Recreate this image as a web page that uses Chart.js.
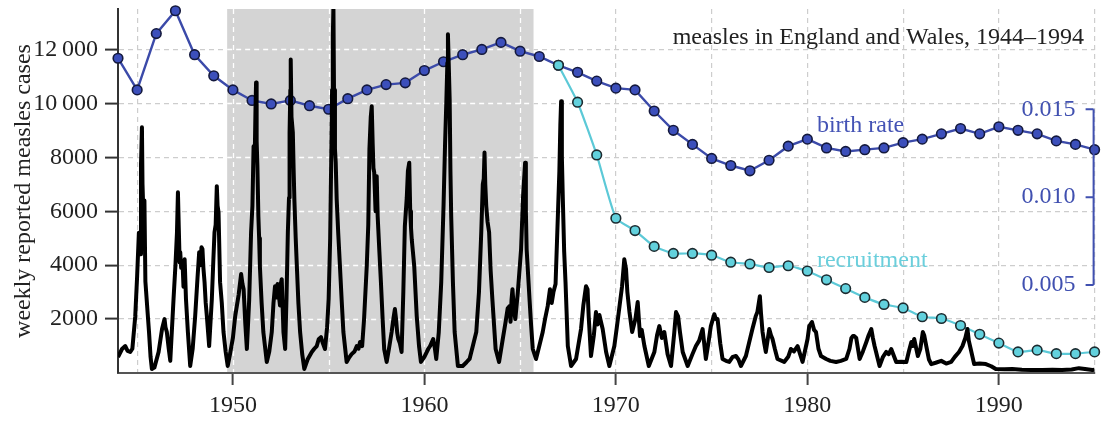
<!DOCTYPE html>
<html>
<head>
<meta charset="utf-8">
<script src="https://cdn.jsdelivr.net/npm/chart.js@4.4.1/dist/chart.umd.min.js"></script>
<style>
  html, body { margin: 0; padding: 0; background: #fff; }
  #wrap { width: 1101px; height: 421px; }
</style>
</head>
<body>
<div id="wrap"><canvas id="measlesChart" width="1101" height="421"></canvas></div>
<script>
// annual series (birth rate per capita, recruitment = unvaccinated births)
const rateYears = [1944, 1945, 1946, 1947, 1948, 1949, 1950, 1951, 1952, 1953,
    1954, 1955, 1956, 1957, 1958, 1959, 1960, 1961, 1962, 1963,
    1964, 1965, 1966, 1967, 1968, 1969, 1970, 1971, 1972, 1973,
    1974, 1975, 1976, 1977, 1978, 1979, 1980, 1981, 1982, 1983,
    1984, 1985, 1986, 1987, 1988, 1989, 1990, 1991, 1992, 1993,
    1994, 1995];
const birthRate = [0.0179, 0.0161, 0.0193, 0.0206, 0.0181, 0.0169, 0.0161, 0.0155, 0.0153, 0.0155,
    0.0152, 0.0150, 0.0156, 0.0161, 0.0164, 0.0165, 0.0172, 0.0177, 0.0181, 0.0184,
    0.0188, 0.0183, 0.0180, 0.0175, 0.0171, 0.0166, 0.0162, 0.0161, 0.0149, 0.0138,
    0.0130, 0.0122, 0.0118, 0.0115, 0.0121, 0.0129, 0.0133, 0.0128, 0.0126, 0.0127,
    0.0128, 0.0131, 0.0133, 0.0136, 0.0139, 0.0136, 0.0140, 0.0138, 0.0136, 0.0132,
    0.0130, 0.0127];

const recruitYears = [1967, 1968, 1969, 1970, 1971, 1972, 1973, 1974, 1975, 1976,
    1977, 1978, 1979, 1980, 1981, 1982, 1983, 1984, 1985, 1986,
    1987, 1988, 1989, 1990, 1991, 1992, 1993, 1994, 1995];
const recruitment = [0.0175, 0.0154, 0.0124, 0.0088, 0.0081, 0.0072, 0.0068, 0.0068, 0.0067, 0.0063,
    0.0062, 0.0060, 0.0061, 0.0058, 0.0053, 0.0048, 0.0043, 0.0039, 0.0037, 0.0032,
    0.0031, 0.0027, 0.0022, 0.0017, 0.0012, 0.0013, 0.0011, 0.0011, 0.0012];

// weekly reported cases (one row per year)
const measlesTime = [
    1944.00, 1944.21, 1944.38, 1944.50, 1944.64, 1944.75, 1944.90,
    1945.00, 1945.09, 1945.15, 1945.20, 1945.25, 1945.28, 1945.33, 1945.38, 1945.43, 1945.55, 1945.62, 1945.70, 1945.77, 1945.90,
    1946.12, 1946.30, 1946.43, 1946.48, 1946.55, 1946.65, 1946.73, 1946.90,
    1947.00, 1947.08, 1947.13, 1947.17, 1947.22, 1947.25, 1947.30, 1947.37, 1947.42, 1947.48, 1947.55, 1947.65, 1947.77, 1947.90,
    1948.03, 1948.15, 1948.24, 1948.30, 1948.36, 1948.41, 1948.46, 1948.52, 1948.58, 1948.64, 1948.76, 1948.90, 1948.98,
    1949.04, 1949.10, 1949.16, 1949.20, 1949.25, 1949.33, 1949.42, 1949.51, 1949.62, 1949.73, 1949.85,
    1950.00, 1950.12, 1950.30, 1950.43, 1950.50, 1950.56, 1950.65, 1950.73, 1950.85, 1950.95,
    1951.02, 1951.08, 1951.14, 1951.18, 1951.21, 1951.24, 1951.28, 1951.33, 1951.37, 1951.41, 1951.50, 1951.59, 1951.77, 1951.90,
    1952.03, 1952.12, 1952.20, 1952.28, 1952.33, 1952.38, 1952.46, 1952.50, 1952.55, 1952.60, 1952.64, 1952.73, 1952.80, 1952.87, 1952.93, 1952.96,
    1953.00, 1953.02, 1953.06, 1953.13, 1953.17, 1953.21, 1953.28, 1953.34, 1953.42, 1953.51, 1953.62, 1953.73, 1953.90,
    1954.12, 1954.25, 1954.38, 1954.48, 1954.60, 1954.70, 1954.81, 1954.92,
    1955.00, 1955.08, 1955.13, 1955.18, 1955.22, 1955.25, 1955.28, 1955.33, 1955.37, 1955.42, 1955.50, 1955.59, 1955.68, 1955.77, 1955.94,
    1956.05, 1956.20, 1956.35, 1956.47, 1956.56, 1956.64, 1956.75, 1956.85, 1956.99,
    1957.07, 1957.13, 1957.20, 1957.25, 1957.30, 1957.34, 1957.38, 1957.45, 1957.51, 1957.56, 1957.65, 1957.73, 1957.82, 1957.90,
    1958.03, 1958.15, 1958.29, 1958.38, 1958.46, 1958.52, 1958.58, 1958.64, 1958.72, 1958.81, 1958.90, 1958.98,
    1959.08, 1959.14, 1959.21, 1959.26, 1959.30, 1959.34, 1959.40, 1959.47, 1959.60, 1959.72, 1959.82,
    1960.00, 1960.20, 1960.30, 1960.46, 1960.55, 1960.62, 1960.75, 1960.88,
    1961.00, 1961.08, 1961.15, 1961.20, 1961.23, 1961.27, 1961.32, 1961.36, 1961.40, 1961.49, 1961.58, 1961.75,
    1962.00, 1962.20, 1962.36, 1962.53, 1962.71, 1962.85, 1962.97,
    1963.05, 1963.10, 1963.14, 1963.18, 1963.23, 1963.30, 1963.38, 1963.46, 1963.55, 1963.72, 1963.90,
    1964.08, 1964.24, 1964.35, 1964.45, 1964.50, 1964.55, 1964.60, 1964.68, 1964.75, 1964.88,
    1965.05, 1965.15, 1965.26, 1965.30, 1965.34, 1965.42, 1965.49, 1965.57, 1965.66, 1965.83,
    1966.00, 1966.18, 1966.30, 1966.44, 1966.50, 1966.56, 1966.65, 1966.74, 1966.85, 1966.97,
    1967.05, 1967.10, 1967.14, 1967.18, 1967.23, 1967.30, 1967.37, 1967.49, 1967.66, 1967.92,
    1968.18, 1968.30, 1968.44, 1968.52, 1968.58, 1968.70, 1968.85, 1968.96,
    1969.05, 1969.14, 1969.22, 1969.31, 1969.49, 1969.66, 1969.92,
    1970.05, 1970.19, 1970.32, 1970.44, 1970.53, 1970.60, 1970.71, 1970.85,
    1971.02, 1971.14, 1971.26, 1971.35, 1971.49, 1971.72,
    1972.01, 1972.15, 1972.27, 1972.40, 1972.53, 1972.70, 1972.88,
    1973.05, 1973.14, 1973.25, 1973.35, 1973.49, 1973.75,
    1974.00, 1974.18, 1974.35, 1974.53, 1974.70, 1974.85, 1974.96,
    1975.14, 1975.22, 1975.31, 1975.45, 1975.57, 1975.75, 1975.92,
    1976.10, 1976.27, 1976.40, 1976.53, 1976.79, 1976.95,
    1977.13, 1977.30, 1977.39, 1977.52, 1977.58, 1977.66, 1977.75, 1977.83,
    1978.01, 1978.10, 1978.18, 1978.30, 1978.44, 1978.79,
    1979.00, 1979.14, 1979.30, 1979.49, 1979.62, 1979.75, 1979.90,
    1980.01, 1980.10, 1980.24, 1980.35, 1980.45, 1980.58, 1980.71, 1980.98,
    1981.20, 1981.50, 1981.75,
    1982.03, 1982.20, 1982.30, 1982.38, 1982.45, 1982.55, 1982.73, 1982.90,
    1983.08, 1983.20, 1983.34, 1983.42, 1983.51, 1983.77, 1983.95,
    1984.12, 1984.25, 1984.38, 1984.64, 1984.90,
    1985.17, 1985.30, 1985.43, 1985.50, 1985.58, 1985.77, 1985.90,
    1986.03, 1986.10, 1986.21, 1986.35, 1986.47, 1986.70, 1986.99,
    1987.25, 1987.51, 1987.70, 1987.92,
    1988.10, 1988.25, 1988.36, 1988.43, 1988.53, 1988.71,
    1989.00, 1989.32, 1989.60, 1989.84,
    1990.30, 1990.70, 1991.20, 1991.70, 1992.27, 1992.80, 1993.30, 1993.80, 1994.18, 1994.50, 1994.88, 1995.00
];
const measlesCases = [
    590, 890, 1000, 820, 780, 900, 2100,
    3600, 5200, 4400, 7700, 9110, 7000, 5800, 6400, 3400, 2200, 1520, 600, 150, 200,
    780, 1630, 2000, 1700, 1520, 900, 450, 2740,
    4000, 5220, 6700, 5500, 4100, 4480, 3900, 4100, 3200, 4220, 2740, 1520, 260, 900,
    2110, 3500, 4480, 4000, 4660, 4600, 3900, 3370, 2600, 2110, 1000, 2740, 4200,
    5220, 5500, 6930, 6200, 5960, 3370, 2600, 1520, 800, 260, 700,
    1300, 2110, 2900, 3670, 3300, 3110, 1800, 890, 2700, 5220,
    6200, 8410, 8000, 9800, 10770, 8600, 7670, 5820, 5000, 3960, 2600, 1520, 410, 800,
    1520, 2600, 3220, 2800, 3300, 3000, 2500, 3300, 3480, 2400, 1520, 890, 2800, 5220, 6500, 8920,
    10500, 11630, 9500, 8920, 7600, 6450, 5000, 3960, 2600, 1520, 700, 150, 500,
    780, 900, 1000, 1250, 1330, 1100, 890, 1700,
    2740, 5000, 7670, 10500, 12500, 13600, 10500, 8300, 7800, 6450, 5200, 3960, 2700, 1520, 410,
    550, 700, 800, 1000, 900, 1150, 1000, 2000, 3960,
    5500, 8300, 9500, 9890, 8500, 7600, 7440, 6000, 7300, 5820, 4500, 3370, 2000, 890,
    410, 900, 1520, 2000, 2370, 2000, 1500, 1260, 1100, 780, 3000, 5450,
    6500, 7500, 7800, 6000, 5400, 4960, 4500, 3960, 2110, 1000, 410,
    600, 890, 1000, 1260, 900, 520, 1500, 3370,
    6200, 8500, 10150, 11500, 12560, 11500, 10150, 7500, 5820, 3370, 1520, 260,
    260, 400, 520, 1000, 1520, 3000, 5220,
    7000, 7200, 8180, 7000, 6200, 5600, 5220, 3800, 2740, 890, 410,
    1200, 1890, 2400, 2480, 1900, 2700, 3110, 2300, 2000, 3000,
    4590, 6500, 7800, 6000, 4590, 3600, 2740, 1800, 890, 520,
    1000, 1520, 2000, 2480, 2800, 3110, 2600, 3000, 3300, 5820,
    7500, 9200, 10080, 8000, 6450, 4500, 3370, 1000, 260, 520,
    1630, 2500, 3220, 3100, 2110, 630, 1400, 2260,
    1800, 2150, 1900, 1630, 780, 260, 1000,
    1700, 2480, 3200, 4220, 3850, 3000, 2260, 1520,
    2000, 2630, 1370, 1600, 1000, 260,
    780, 1400, 1740, 1300, 1520, 700, 260,
    1500, 2260, 2100, 1500, 780, 260,
    700, 1000, 1200, 1630, 520, 1200, 1740,
    2180, 2000, 2000, 1100, 520, 450, 410,
    600, 630, 500, 260, 630, 1100,
    1630, 2100, 2260, 2850, 2200, 1520, 1100, 780,
    1630, 1400, 1260, 900, 520, 410,
    600, 890, 800, 1000, 700, 410, 900,
    1260, 1740, 1890, 1600, 1520, 900, 630, 520,
    450, 410, 450,
    520, 900, 1300, 1370, 1370, 1300, 520, 800,
    1150, 1400, 1630, 1300, 1000, 260, 600,
    780, 700, 890, 410, 420,
    410, 800, 1150, 1000, 1260, 630, 900,
    1520, 1400, 1000, 500, 330, 380, 450,
    350, 410, 600, 780,
    1000, 1300, 1630, 1200, 890, 330,
    350, 330, 250, 150,
    140, 150, 120, 110, 110, 120, 110, 130, 180, 150, 110, 120
];

// axes
const xTicks = [1945, 1950, 1955, 1960, 1965, 1970, 1975, 1980, 1985, 1990, 1995];
const caseTicks = [2000, 4000, 6000, 8000, 10000, 12000];
const rateTicks = [0.005, 0.010, 0.015];
const shadeStart = 1949.7;
const shadeEnd = 1965.7;

const serif = "'Liberation Serif', 'DejaVu Serif', serif";
const birthColor = '#3b4aa9';
const recruitColor = '#5cc9d7';

// keep the plot area where it is, labels may hang over the edges
function noEdgePadding(s) {
    s.paddingTop = 0;
    s.paddingBottom = 0;
    s.paddingLeft = 0;
    s.paddingRight = 0;
}

const overlayPlugin = {
    id: 'overlay',
    beforeDatasetsDraw(chart) {
        const { ctx, chartArea, scales } = chart;
        const x0 = scales.x.getPixelForValue(shadeStart);
        const x1 = scales.x.getPixelForValue(shadeEnd);
        ctx.save();
        ctx.fillStyle = '#d4d4d4';
        ctx.fillRect(x0, chartArea.top, x1 - x0, chartArea.bottom - chartArea.top - 1);

        // grid shows through the box in white
        ctx.strokeStyle = '#ffffff';
        ctx.lineWidth = 1.3;
        ctx.setLineDash([5, 4]);
        scales.y.ticks.forEach(t => {
            const py = Math.round(scales.y.getPixelForValue(t.value)) + 0.5;
            ctx.beginPath();
            ctx.moveTo(x0, py);
            ctx.lineTo(x1, py);
            ctx.stroke();
        });
        scales.x.ticks.forEach(t => {
            if (t.value <= shadeStart || t.value >= shadeEnd) return;
            const px = Math.round(scales.x.getPixelForValue(t.value)) + 0.5;
            ctx.beginPath();
            ctx.moveTo(px, chartArea.top);
            ctx.lineTo(px, chartArea.bottom - 1);
            ctx.stroke();
        });
        ctx.restore();
    },
    afterDatasetsDraw(chart) {
        const { ctx, chartArea, scales } = chart;
        ctx.save();

        // title
        ctx.font = '24px ' + serif;
        ctx.fillStyle = '#222';
        ctx.textAlign = 'right';
        ctx.textBaseline = 'alphabetic';
        ctx.fillText('measles in England and Wales, 1944\u20131994', 1084, 44);

        // series labels
        ctx.textAlign = 'left';
        ctx.fillStyle = '#4453b5';
        ctx.fillText('birth rate', scales.x.getPixelForValue(1980.5), 132);
        ctx.fillStyle = '#6bcfdc';
        ctx.fillText('recruitment', scales.x.getPixelForValue(1980.5), 267);

        // right-hand birth rate bracket
        const bx = chartArea.right - 1;
        const yTop = scales.y2.getPixelForValue(rateTicks[rateTicks.length - 1]);
        const yBot = scales.y2.getPixelForValue(rateTicks[0]);
        ctx.strokeStyle = '#4050b0';
        ctx.lineWidth = 2;
        ctx.beginPath();
        ctx.moveTo(bx, yTop);
        ctx.lineTo(bx, yBot);
        rateTicks.forEach(v => {
            const py = scales.y2.getPixelForValue(v);
            ctx.moveTo(bx, py);
            ctx.lineTo(bx - 8, py);
        });
        ctx.stroke();
        ctx.restore();
    }
};

const ctx = document.getElementById('measlesChart').getContext('2d');
new Chart(ctx, {
    type: 'line',
    data: {
        datasets: [{
            label: 'weekly cases',
            data: measlesTime.map((t, i) => ({ x: t, y: measlesCases[i] })),
            yAxisID: 'y',
            borderColor: '#000',
            borderWidth: 4,
            borderJoinStyle: 'round',
            pointRadius: 0,
            tension: 0,
            order: 0
        }, {
            label: 'recruitment',
            data: recruitYears.map((t, i) => ({ x: t, y: recruitment[i] })),
            yAxisID: 'y2',
            borderColor: recruitColor,
            borderWidth: 2.2,
            tension: 0.15,
            pointRadius: 4.8,
            pointBackgroundColor: '#62d1dd',
            pointBorderColor: '#1c2b30',
            pointBorderWidth: 1.6,
            clip: false,
            order: 1
        }, {
            label: 'birth rate',
            data: rateYears.map((t, i) => ({ x: t, y: birthRate[i] })),
            yAxisID: 'y2',
            borderColor: birthColor,
            borderWidth: 2.4,
            tension: 0,
            pointRadius: 4.8,
            pointBackgroundColor: '#3c4fbb',
            pointBorderColor: '#14193d',
            pointBorderWidth: 1.6,
            clip: false,
            order: 2
        }]
    },
    options: {
        responsive: false,
        animation: false,
        devicePixelRatio: 1,
        layout: { padding: { top: 9, right: 5, left: 0, bottom: 0 } },
        plugins: {
            legend: { display: false },
            tooltip: { enabled: false }
        },
        scales: {
            x: {
                type: 'linear',
                min: 1944,
                max: 1995,
                afterBuildTicks: s => { s.ticks = xTicks.map(v => ({ value: v })); },
                afterFit: s => { s.height = 48; noEdgePadding(s); },
                grid: {
                    color: '#cdcdcd',
                    lineWidth: 1.2,
                    tickLength: 12,
                    tickWidth: 2,
                    tickBorderDash: [],
                    tickColor: c => (c.tick && c.tick.value % 10 === 0) ? '#444' : 'rgba(0,0,0,0)'
                },
                border: { color: '#555', width: 2, dash: [5, 4] },
                ticks: {
                    autoSkip: false,
                    maxRotation: 0,
                    padding: 6,
                    color: '#222',
                    font: { family: serif, size: 24 },
                    callback: v => v % 10 === 0 ? String(v) : ''
                }
            },
            y: {
                position: 'left',
                min: 0,
                max: 13500,
                afterBuildTicks: s => { s.ticks = caseTicks.map(v => ({ value: v })); },
                afterFit: s => { s.width = 118; noEdgePadding(s); },
                grid: {
                    color: '#cdcdcd',
                    lineWidth: 1.2,
                    tickLength: 13,
                    tickWidth: 2,
                    tickBorderDash: [],
                    tickColor: '#333'
                },
                border: { color: '#333', width: 2, dash: [5, 4] },
                ticks: {
                    padding: 7,
                    color: '#222',
                    font: { family: serif, size: 24 },
                    callback: v => v >= 10000 ? Math.floor(v / 1000) + '\u2009' + String(v % 1000).padStart(3, '0') : String(v)
                },
                title: {
                    display: true,
                    text: 'weekly reported measles cases',
                    color: '#222',
                    font: { family: serif, size: 24 },
                    padding: { top: 9, bottom: 0 }
                }
            },
            y2: {
                position: 'right',
                min: 0,
                max: 0.0207,
                afterBuildTicks: s => { s.ticks = rateTicks.map(v => ({ value: v })); },
                afterFit: s => { s.width = 0; noEdgePadding(s); },
                grid: { display: false },
                border: { display: false },
                ticks: {
                    mirror: true,
                    padding: -19,
                    color: '#4050b0',
                    font: { family: serif, size: 24 },
                    callback: v => v.toFixed(3)
                }
            }
        }
    },
    plugins: [overlayPlugin]
});
</script>
</body>
</html>
